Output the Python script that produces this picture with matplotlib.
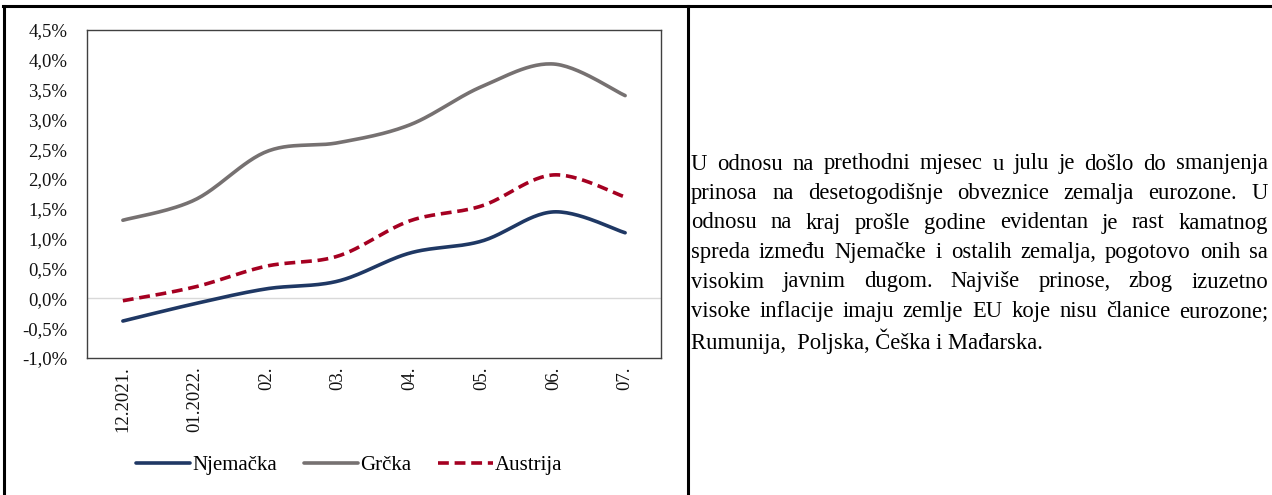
import numpy as np
import matplotlib
matplotlib.use('Agg')
import matplotlib.pyplot as plt
from matplotlib.lines import Line2D
from matplotlib.ticker import FuncFormatter

plt.rcParams['font.family'] = ['Liberation Serif', 'DejaVu Serif']

# Data (yield on 10y bonds, %)
months = ['12.2021.', '01.2022.', '02.', '03.', '04.', '05.', '06.', '07.']
njemacka = [-0.38, -0.09, 0.16, 0.29, 0.76, 0.96, 1.45, 1.10]
grcka = [1.31, 1.65, 2.46, 2.61, 2.91, 3.55, 3.93, 3.40]
austrija = [-0.04, 0.19, 0.54, 0.71, 1.30, 1.55, 2.07, 1.70]

text_lines = [
    'U odnosu na prethodni mjesec u julu je došlo do smanjenja',
    'prinosa na desetogodišnje obveznice zemalja eurozone. U',
    'odnosu na kraj prošle godine evidentan je rast kamatnog',
    'spreda između Njemačke i ostalih zemalja, pogotovo onih sa',
    'visokim javnim dugom. Najviše prinose, zbog izuzetno',
    'visoke inflacije imaju zemlje EU koje nisu članice eurozone;',
    'Rumunija,  Poljska, Češka i Mađarska.',
]


def smooth(y, n=30):
    # Catmull-Rom style smoothing like Excel's smoothed line
    y = np.asarray(y, float)
    x = np.arange(len(y), dtype=float)
    px = np.concatenate([[x[0]], x, [x[-1]]])
    py = np.concatenate([[y[0]], y, [y[-1]]])
    xs, ys = [], []
    t = np.linspace(0, 1, n)
    for i in range(1, len(px) - 2):
        p0, p1, p2, p3 = (np.array([px[j], py[j]]) for j in range(i - 1, i + 3))
        c1 = p1 + (p2 - p0) / 6
        c2 = p2 - (p3 - p1) / 6
        pts = ((1 - t) ** 3)[:, None] * p1 + (3 * (1 - t) ** 2 * t)[:, None] * c1 \
            + (3 * (1 - t) * t ** 2)[:, None] * c2 + (t ** 3)[:, None] * p2
        xs.extend(pts[:, 0])
        ys.extend(pts[:, 1])
    return np.array(xs), np.array(ys)


W, H = 1272, 495
fig = plt.figure(figsize=(W / 100, H / 100), dpi=100)

ax = fig.add_axes([87 / W, 1 - 358 / H, (661 - 87) / W, (358 - 30) / H])
ax.axhline(0, color='#d9d9d9', lw=1, zorder=1)

for vals, col, ls, lab in [(njemacka, '#1f3864', '-', 'Njemačka'),
                           (grcka, '#767171', '-', 'Grčka'),
                           (austrija, '#a50021', '--', 'Austrija')]:
    sx, sy = smooth(vals)
    ax.plot(sx, sy, color=col, ls=ls, lw=2.6, label=lab, zorder=3,
            solid_capstyle='round', dash_capstyle='butt', dashes=(3, 1.6) if ls == '--' else (None, None))

ax.set_xlim(-0.5, 7.5)
ax.set_ylim(-1.0, 4.5)
ax.set_yticks(np.arange(-1.0, 4.51, 0.5))
ax.yaxis.set_major_formatter(FuncFormatter(lambda v, p: f'{v:.1f}%'.replace('.', ',')))
ax.set_xticks(range(len(months)))
ax.set_xticklabels(months, rotation=90, va='top', ha='center')
ax.tick_params(axis='both', length=0, labelsize=13.5, colors='#111111')
ax.tick_params(axis='y', pad=14)
ax.tick_params(axis='x', pad=6)
for s in ax.spines.values():
    s.set_color('#404040')
    s.set_linewidth(1)

ax.legend(loc='center', bbox_to_anchor=(349 / W, 1 - 465 / H), bbox_transform=fig.transFigure,
          ncol=3, frameon=False, fontsize=15, handlelength=2.6, handletextpad=0.1, columnspacing=1.3)

# table borders
lc = 'black'
fig.add_artist(Line2D([3 / W, 1], [1 - 5.5 / H] * 2, color=lc, lw=2.2, transform=fig.transFigure))
fig.add_artist(Line2D([4 / W] * 2, [0, 1 - 5.5 / H], color=lc, lw=2.2, transform=fig.transFigure))
fig.add_artist(Line2D([688 / W] * 2, [0, 1 - 5.5 / H], color=lc, lw=2.2, transform=fig.transFigure))

# justified paragraph
renderer = fig.canvas.get_renderer()
x0, x1 = 691, 1268
y_first, dy = 164, 29.5
fs = 16.3
for i, line in enumerate(text_lines):
    y = 1 - (y_first + i * dy) / H
    if i == len(text_lines) - 1:
        fig.text(x0 / W, y, line, fontsize=fs, va='center', ha='left', color='black')
        continue
    words = line.split()
    arts = [fig.text(0, y, w, fontsize=fs, va='center', ha='left', color='black') for w in words]
    widths = [a.get_window_extent(renderer).width for a in arts]
    gap = (x1 - x0 - sum(widths)) / (len(words) - 1)
    xp = x0
    for a, w in zip(arts, widths):
        a.set_x(xp / W)
        xp += w + gap

fig.savefig('out.png', dpi=100)
